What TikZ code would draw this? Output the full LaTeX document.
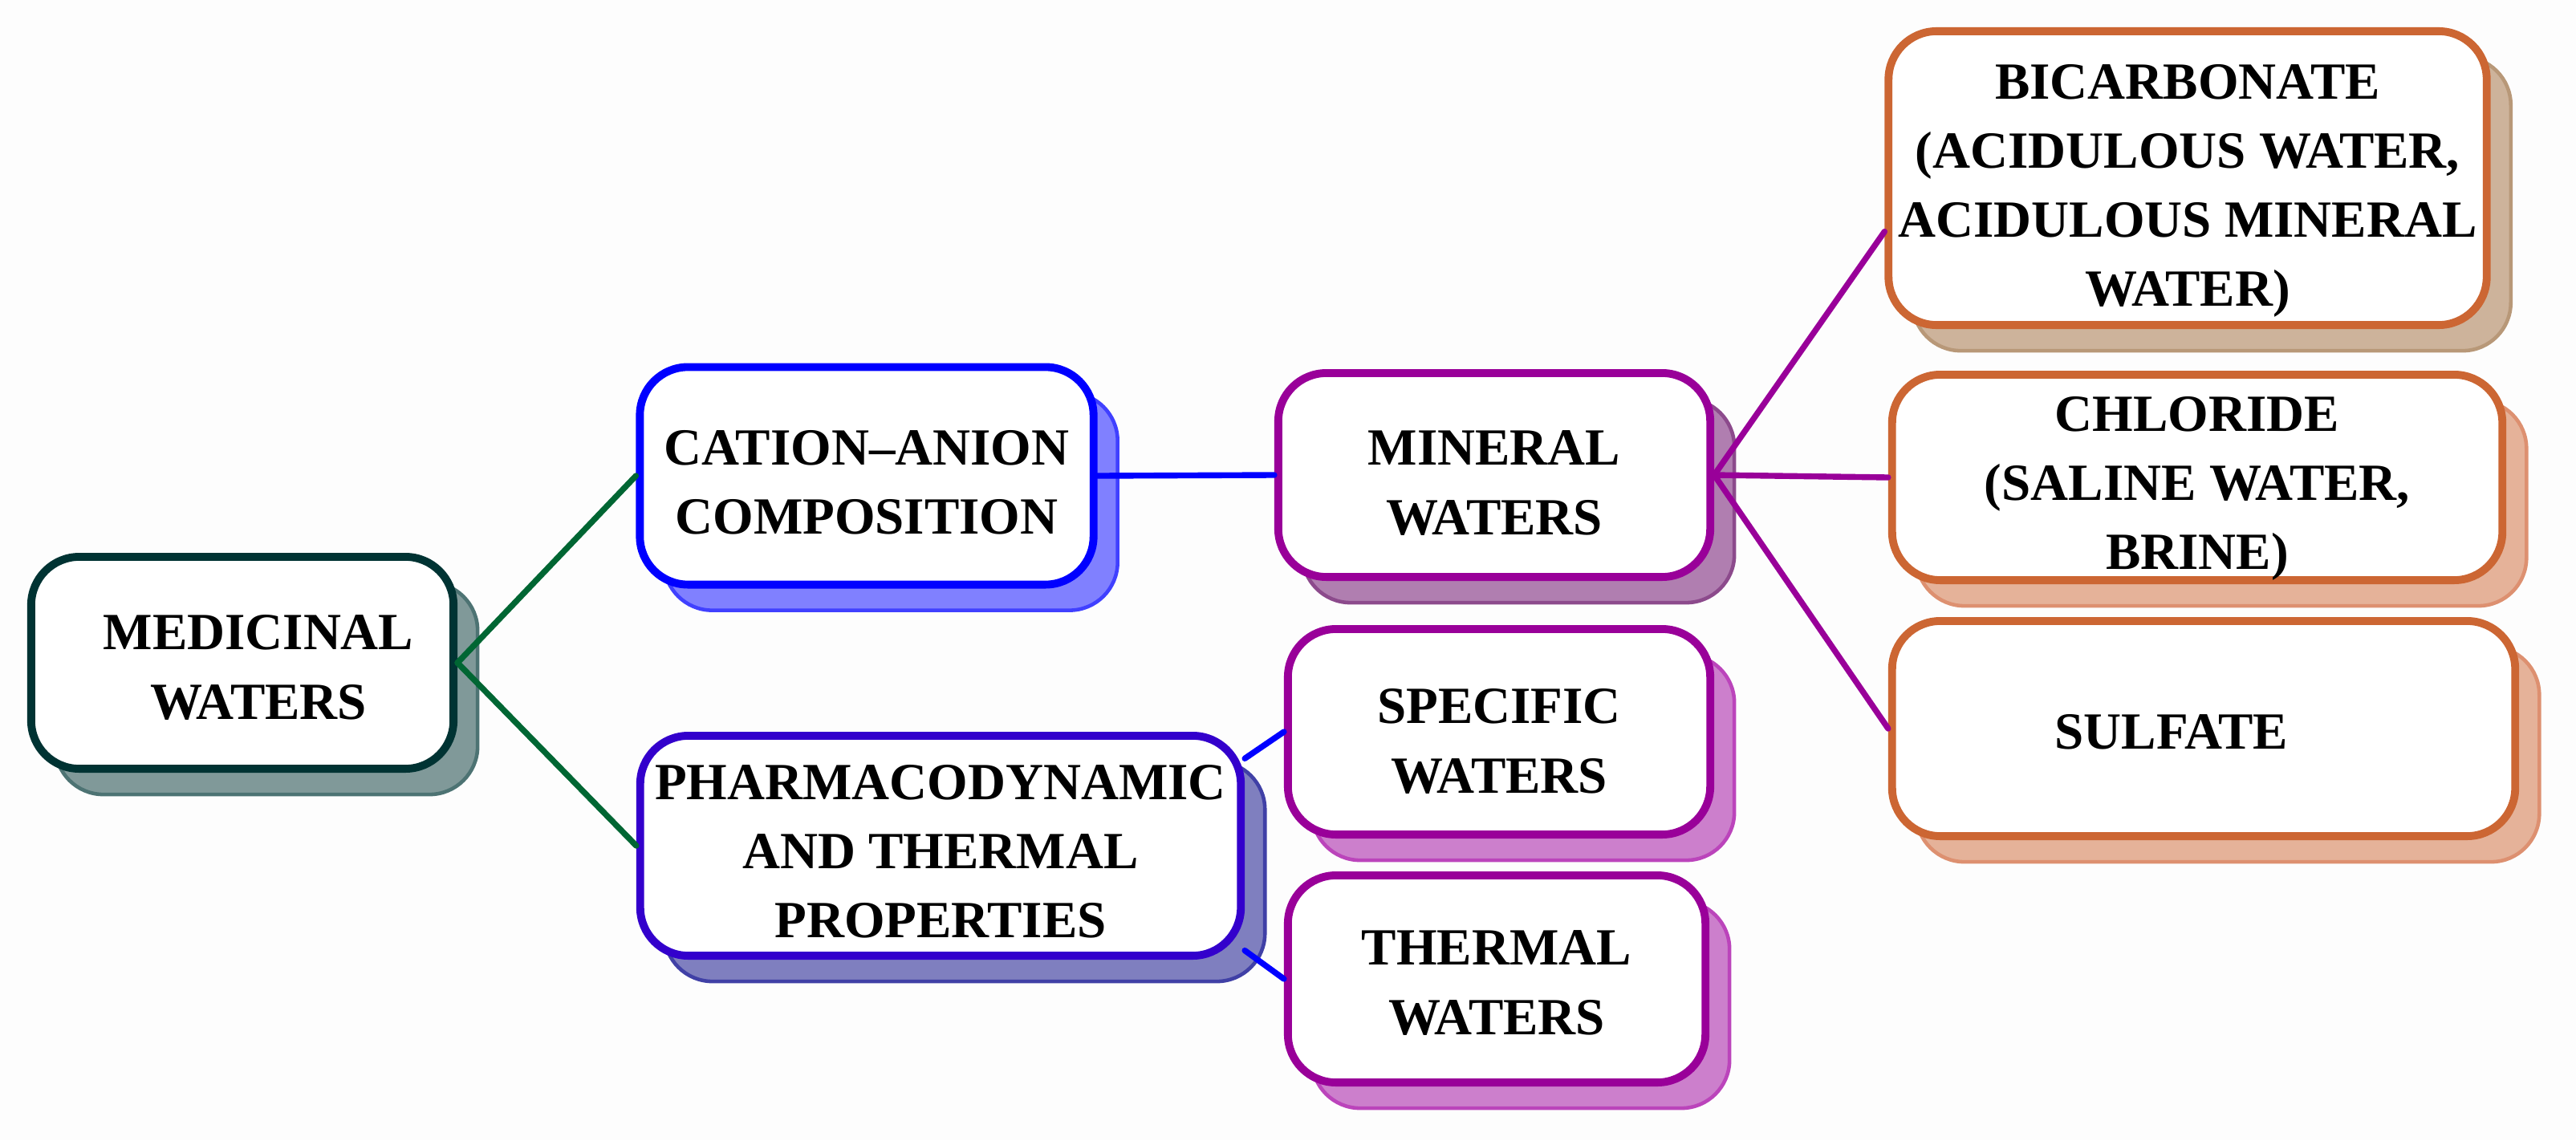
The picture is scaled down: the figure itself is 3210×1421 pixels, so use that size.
\documentclass[tikz,border=0pt]{standalone}
\usepackage{fontspec}
\setmainfont{Liberation Serif}
\usetikzlibrary{shadows}
\definecolor{bgc}{HTML}{FDFDFD}
\definecolor{medc}{HTML}{003333}
\definecolor{medsf}{HTML}{809999}
\definecolor{medsd}{HTML}{4D7373}
\definecolor{catc}{HTML}{0000FF}
\definecolor{catsf}{HTML}{8080FF}
\definecolor{catsd}{HTML}{4040FF}
\definecolor{phac}{HTML}{3300CC}
\definecolor{phasf}{HTML}{7F7FBF}
\definecolor{phasd}{HTML}{4040A6}
\definecolor{purc}{HTML}{990099}
\definecolor{minsf}{HTML}{B07EB0}
\definecolor{minsd}{HTML}{8C4A8C}
\definecolor{spesf}{HTML}{CC7FCC}
\definecolor{spesd}{HTML}{BB44BB}
\definecolor{orac}{HTML}{CC6633}
\definecolor{bicsf}{HTML}{CDB39B}
\definecolor{bicsd}{HTML}{B89878}
\definecolor{chlsf}{HTML}{E5B299}
\definecolor{chlsd}{HTML}{DD9070}
\definecolor{grnc}{HTML}{006633}
\begin{document}
\begin{tikzpicture}[x=0.01cm,y=-0.01cm,
  box/.style={rounded corners=0.6cm, fill=white, line width=2.8pt, inner sep=0pt},
  lbl/.style={align=center, font=\fontsize{18.5}{24.5}\selectfont\bfseries, inner sep=0pt},
  shad/.style 2 args={general shadow={shadow xshift=0.30cm, shadow yshift=-0.32cm,
    fill=#1, draw=#2, line width=1.3pt}},
  conn/.style={line width=2.1pt, line cap=round}]
\fill[bgc] (0,0) rectangle (3210,1421);
\useasboundingbox (0,0) rectangle (3210,1421);

\node[box, draw=medc, shad={medsf}{medsd}, minimum width=5.26cm, minimum height=2.64cm] (med) at (302,826) {};
\node[box, draw=catc, shad={catsf}{catsd}, minimum width=5.65cm, minimum height=2.71cm] (cat) at (1080,593) {};
\node[box, draw=phac, shad={phasf}{phasd}, minimum width=7.48cm, minimum height=2.74cm] (pha) at (1172,1054) {};
\node[box, draw=purc, shad={minsf}{minsd}, minimum width=5.38cm, minimum height=2.54cm] (min) at (1862,592) {};
\node[box, draw=purc, shad={spesf}{spesd}, minimum width=5.26cm, minimum height=2.56cm] (spe) at (1868,912) {};
\node[box, draw=purc, shad={spesf}{spesd}, minimum width=5.20cm, minimum height=2.58cm] (the) at (1865,1220) {};
\node[box, draw=orac, shad={bicsf}{bicsd}, minimum width=7.45cm, minimum height=3.66cm] (bic) at (2726,222) {};
\node[box, draw=orac, shad={chlsf}{chlsd}, minimum width=7.60cm, minimum height=2.56cm] (chl) at (2738,595) {};
\node[box, draw=orac, shad={chlsf}{chlsd}, minimum width=7.76cm, minimum height=2.68cm] (sul) at (2746,908) {};

\node[lbl] (medt) at ([xshift=0.2cm, yshift=-0.06cm]med.center) {MEDICINAL\\WATERS};
\node[lbl] (catt) at ([yshift=-0.08cm]cat.center) {CATION--ANION\\COMPOSITION};
\node[lbl] (phat) at ([yshift=-0.07cm]pha.center) {PHARMACODYNAMIC\\AND THERMAL\\PROPERTIES};
\node[lbl] (mint) at ([yshift=-0.10cm]min.center) {MINERAL\\WATERS};
\node[lbl] (spet) at ([yshift=-0.12cm]spe.center) {SPECIFIC\\WATERS};
\node[lbl] (thet) at ([yshift=-0.05cm]the.center) {THERMAL\\WATERS};
\node[lbl] (bict) at ([yshift=-0.16cm]bic.center) {BICARBONATE\\(ACIDULOUS WATER,\\ACIDULOUS MINERAL\\WATER)};
\node[lbl] (chlt) at ([yshift=-0.14cm]chl.center) {CHLORIDE\\(SALINE WATER,\\BRINE)};
\node[lbl] (sult) at ([xshift=-0.4cm, yshift=-0.04cm]sul.center) {SULFATE};

\draw[conn, grnc] (med.east) -- (cat.west);
\draw[conn, grnc] (med.east) -- (pha.west);
\draw[conn, catc] (cat.east) -- (min.west);
\draw[conn, catc] (pha.16) -- (spe.west);
\draw[conn, catc] (pha.-19) -- (the.west);
\draw[conn, purc] (min.east) -- (bic.190);
\draw[conn, purc] (min.east) -- (chl.west);
\draw[conn, purc] (min.east) -- (sul.west);
\end{tikzpicture}
\end{document}
